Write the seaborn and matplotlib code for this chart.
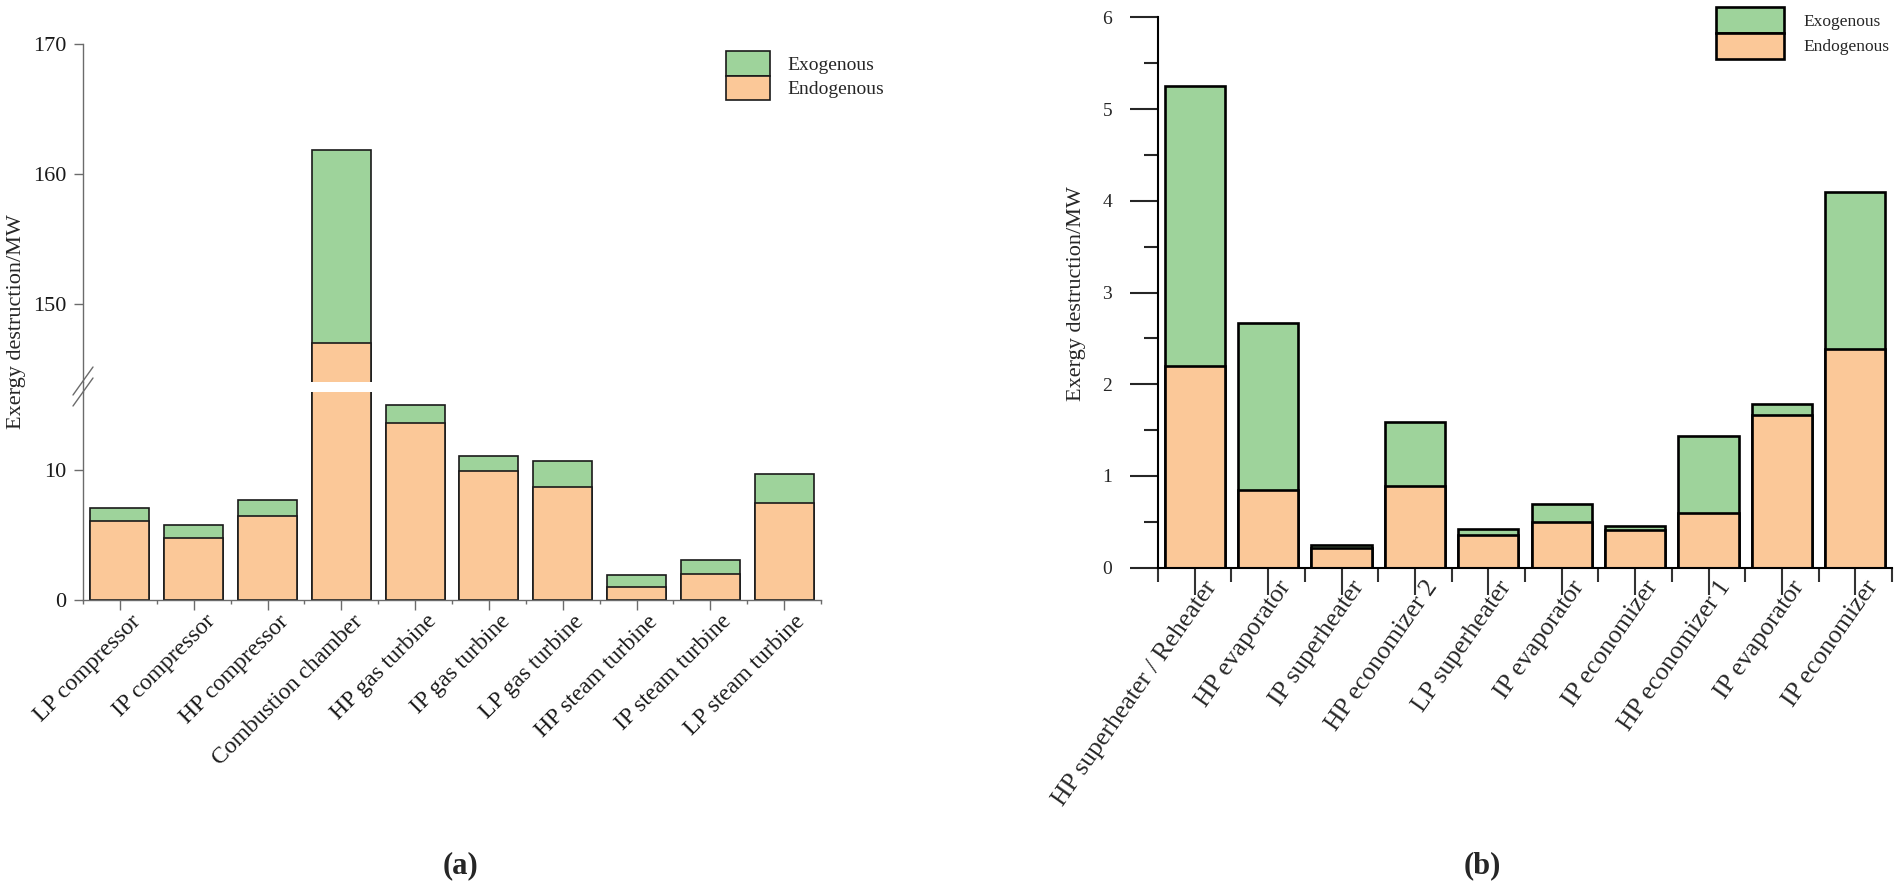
import numpy as np
import pandas as pd
import matplotlib
matplotlib.use("Agg")
import matplotlib.pyplot as plt
import matplotlib.transforms as mtransforms
import seaborn as sns
from matplotlib.patches import Patch
from matplotlib.lines import Line2D

# ---------------- data ----------------
left_components = ["LP compressor", "IP compressor", "HP compressor", "Combustion chamber",
                   "HP gas turbine", "IP gas turbine", "LP gas turbine",
                   "HP steam turbine", "IP steam turbine", "LP steam turbine"]
left_endogenous = [6.05, 4.8, 6.45, 147.0, 13.6, 9.95, 8.7, 1.0, 2.0, 7.5]
left_exogenous = [1.03, 0.95, 1.23, 14.85, 1.4, 1.13, 2.0, 0.93, 1.04, 2.2]

right_components = ["HP superheater / Reheater", "HP evaporator", "IP superheater",
                    "HP economizer 2", "LP superheater", "IP evaporator", "IP economizer",
                    "HP economizer 1", "IP evaporator", "IP economizer"]
right_endogenous = [2.20, 0.85, 0.21, 0.89, 0.36, 0.50, 0.41, 0.60, 1.66, 2.38]
right_exogenous = [3.05, 1.82, 0.04, 0.70, 0.06, 0.19, 0.04, 0.84, 0.12, 1.72]

left_upper_ticks = [150, 160, 170]
left_lower_ticks = [0, 10]
right_ticks = [0, 1, 2, 3, 4, 5, 6]

series_names = ["Exogenous", "Endogenous"]
panel_labels = ["(a)", "(b)"]
y_label = "Exergy destruction/MW"

GREEN = "#9ed39b"
ORANGE = "#fbc898"

sns.set_style("ticks")
plt.rcParams["font.family"] = ["Liberation Serif", "DejaVu Serif"]

W, H = 1900, 888
fig = plt.figure(figsize=(W / 100, H / 100), dpi=100)


def fx(px):
    return px / W


def fy(py):
    return 1 - py / H


def shift_labels(labels, dx_px, dy_px):
    off = mtransforms.ScaledTranslation(dx_px / 100, dy_px / 100, fig.dpi_scale_trans)
    for lab in labels:
        lab.set_transform(lab.get_transform() + off)


def stacked(ax, endo, exo, lw, ec, width):
    df = pd.DataFrame({"pos": np.arange(len(endo)),
                       "total": np.add(endo, exo),
                       "endo": endo})
    sns.barplot(data=df, x="pos", y="total", color=GREEN, saturation=1,
                edgecolor=ec, linewidth=lw, width=width, ax=ax, errorbar=None)
    sns.barplot(data=df, x="pos", y="endo", color=ORANGE, saturation=1,
                edgecolor=ec, linewidth=lw, width=width, ax=ax, errorbar=None)
    ax.set_xlabel("")
    ax.set_ylabel("")
    ax.set_xlim(-0.5, len(endo) - 0.5)


# ---------------- left panel (broken axis) ----------------
L_x0, L_x1 = 83, 821
ax_up = fig.add_axes([fx(L_x0), fy(382), fx(L_x1 - L_x0), (382 - 44) / H])
ax_lo = fig.add_axes([fx(L_x0), fy(600), fx(L_x1 - L_x0), (600 - 392) / H])
GREY = "#6b6b6b"
for ax in (ax_up, ax_lo):
    stacked(ax, left_endogenous, left_exogenous, 1.2, "#1a1a1a", 0.8)
    for s in ("top", "right"):
        ax.spines[s].set_visible(False)
    ax.spines["left"].set_color(GREY)
    ax.spines["left"].set_linewidth(1.0)
    ax.tick_params(axis="y", colors=GREY, length=6.5, width=1.0, labelsize=16,
                   labelcolor="#1a1a1a", pad=5.5)
ax_up.set_ylim(144, 170)
ax_up.set_yticks(left_upper_ticks)
ax_up.spines["bottom"].set_visible(False)
ax_up.tick_params(axis="x", bottom=False, labelbottom=False)
ax_lo.set_ylim(0, 16)
ax_lo.set_yticks(left_lower_ticks)
ax_lo.spines["bottom"].set_color(GREY)
ax_lo.spines["bottom"].set_linewidth(1.0)
ax_lo.set_xticks(range(len(left_components)))
ax_lo.set_xticklabels(left_components, rotation=45, ha="right", va="center",
                      rotation_mode="anchor", fontsize=17)
ax_lo.set_xticks(np.arange(-0.5, len(left_components), 1), minor=True)
ax_lo.tick_params(axis="x", which="major", colors=GREY, length=7.2, width=1.0,
                  labelcolor="#1a1a1a", pad=6)
ax_lo.tick_params(axis="x", which="minor", colors=GREY, length=3.1, width=1.0)
shift_labels(ax_lo.get_xticklabels(), 18, 0)

# continuous spine across the gap and break marks
fig.add_artist(Line2D([fx(L_x0), fx(L_x0)], [fy(382), fy(392)], color=GREY, lw=1.0))
for yc in (381, 392):
    fig.add_artist(Line2D([fx(L_x0 - 10), fx(L_x0 + 10)], [fy(yc + 14), fy(yc - 14)],
                          color=GREY, lw=1.0))

handles = [Patch(facecolor=GREEN, edgecolor="#1a1a1a", linewidth=1.2),
           Patch(facecolor=ORANGE, edgecolor="#1a1a1a", linewidth=1.2)]
ax_up.legend(handles, series_names, loc="upper left",
             bbox_to_anchor=(fx(726), fy(51)), bbox_transform=fig.transFigure,
             frameon=False, fontsize=14, handlelength=2.27, handleheight=1.57,
             labelspacing=0.0, handletextpad=0.9, borderpad=0, borderaxespad=0)

fig.text(fx(17), fy(322), y_label, rotation=90, ha="center", va="center", fontsize=16)

# ---------------- right panel ----------------
R_x0, R_x1 = 1158, 1892
axr = fig.add_axes([fx(R_x0), fy(567.7), fx(R_x1 - R_x0), (567.7 - 17.3) / H])
stacked(axr, right_endogenous, right_exogenous, 1.9, "black", 0.82)
for s in ("top", "right"):
    axr.spines[s].set_visible(False)
for s in ("left", "bottom"):
    axr.spines[s].set_linewidth(1.5)
    axr.spines[s].set_color("black")
axr.set_ylim(0, 6)
axr.set_yticks(right_ticks)
axr.set_yticks(np.arange(0.5, 6, 1), minor=True)
axr.tick_params(axis="y", which="major", length=20, width=1.5, labelsize=14, pad=13)
axr.tick_params(axis="y", which="minor", length=10, width=1.5)
axr.set_xticks(range(len(right_components)))
axr.set_xticklabels(right_components, rotation=55, ha="right", va="center",
                    rotation_mode="anchor", fontsize=18.5)
axr.set_xticks(np.arange(-0.5, len(right_components), 1), minor=True)
axr.tick_params(axis="x", which="major", length=19.5, width=1.5, color="#333333", pad=6)
axr.tick_params(axis="x", which="minor", length=10, width=1.5, color="#333333")
shift_labels(axr.get_xticklabels(), 18, 20)

axr.legend([Patch(facecolor=GREEN, edgecolor="black", linewidth=1.9),
            Patch(facecolor=ORANGE, edgecolor="black", linewidth=1.9)],
           series_names, loc="upper left",
           bbox_to_anchor=(fx(1716), fy(7)), bbox_transform=fig.transFigure,
           frameon=False, fontsize=12.5, handlelength=3.9, handleheight=1.92,
           labelspacing=0.0, handletextpad=1.15, borderpad=0, borderaxespad=0)

fig.text(fx(1077), fy(294), y_label, rotation=90, ha="center", va="center", fontsize=16)

# panel labels
fig.text(fx(460), fy(866), panel_labels[0], ha="center", va="center",
         fontsize=22, fontweight="bold")
fig.text(fx(1482), fy(866), panel_labels[1], ha="center", va="center",
         fontsize=22, fontweight="bold")

fig.savefig("out.png", dpi=100, facecolor="white")
